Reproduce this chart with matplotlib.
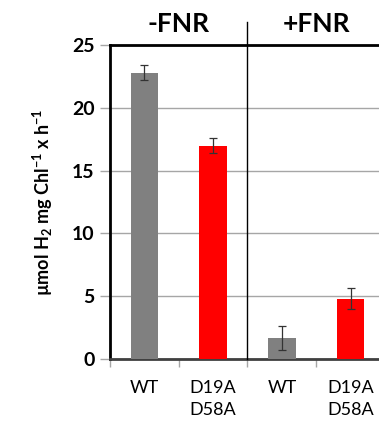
import numpy as np
import matplotlib
matplotlib.use("Agg")
from matplotlib import pyplot as plt

labels = ["WT", "D19A\nD58A", "WT", "D19A\nD58A"]
values = [22.8, 17.0, 1.7, 4.8]
errors = [0.6, 0.57, 0.95, 0.85]
colors = ["#808080", "#ff0000", "#808080", "#ff0000"]
groups = ["-FNR", "+FNR"]

plt.rcParams['font.family'] = ['Lato', 'DejaVu Sans']
plt.rcParams['mathtext.fontset'] = 'custom'
plt.rcParams['mathtext.rm'] = 'Lato'
plt.rcParams['mathtext.bf'] = 'Lato:bold'

fig = plt.figure(figsize=(3.79, 4.21), dpi=100)
ax = fig.add_axes([0.290, 0.147, 0.726, 0.746])

x = np.arange(len(values))
ax.bar(x, values, width=0.4, color=colors, zorder=3)
ax.errorbar(x, values, yerr=errors, fmt="none", ecolor="#333333",
            elinewidth=0.9, capsize=3, capthick=0.9, zorder=4)

ax.set_xlim(-0.5, 3.5)
ax.set_ylim(0, 25)
ax.set_yticks([0, 5, 10, 15, 20, 25])
ax.set_yticklabels(["0", "5", "10", "15", "20", "25"], fontsize=14, fontweight="bold")
ax.yaxis.grid(True, color="#a6a6a6", lw=1, zorder=0)

ax.set_xticks(x)
ax.set_xticklabels(labels, fontsize=13, linespacing=1.45, va="top")
ax.tick_params(axis="x", which="major", length=0, pad=15)
ax.set_xticks([-0.5, 0.5, 1.5, 2.5], minor=True)
ax.tick_params(axis="x", which="minor", length=6, color="#a6a6a6", width=1)
ax.tick_params(axis="y", length=7, color="#a6a6a6", width=1, pad=4)

for side in ["left", "top"]:
    ax.spines[side].set_linewidth(2)
    ax.spines[side].set_color("black")
ax.spines["bottom"].set_linewidth(2)
ax.spines["bottom"].set_color("#404040")
ax.spines["right"].set_visible(False)

ax.plot([1.5, 1.5], [0, 26.8], color="black", lw=1, clip_on=False, zorder=5)

for i, g in enumerate(groups):
    ax.text(2 * i + 0.5, 26.7, g, ha="center", va="center",
            fontsize=19, fontweight="bold")

ax.set_ylabel("µmol H$_\\mathbf{2}$ mg Chl$^\\mathbf{-1}$ x h$^\\mathbf{-1}$",
              fontsize=13, fontweight="bold", labelpad=12)

fig.savefig("out.png", dpi=100)
